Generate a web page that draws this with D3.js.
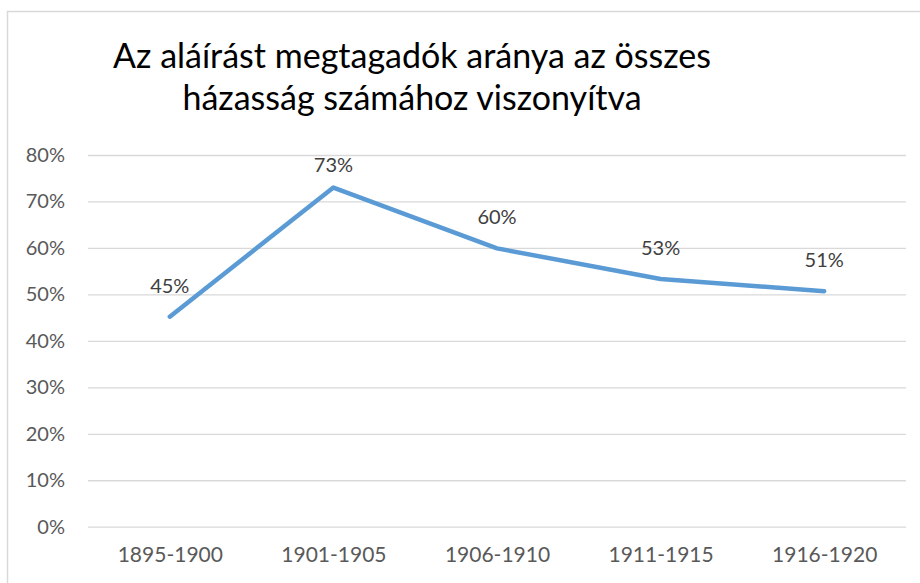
<!DOCTYPE html>
<html>
<head>
<meta charset="utf-8">
<script src="https://cdn.jsdelivr.net/npm/d3@7"></script>
<style>
  html, body { margin: 0; padding: 0; background: #fff; }
  svg { display: block; font-family: Lato, "Open Sans", sans-serif; }
</style>
</head>
<body>
<div id="chart"></div>
<script>
// chart data
const titleLines = ["Az aláírást megtagadók aránya az összes", "házasság számához viszonyítva"];
const categories = ["1895-1900", "1901-1905", "1906-1910", "1911-1915", "1916-1920"];
const values = [0.452, 0.730, 0.599, 0.533, 0.507];
const yTicks = [0, 0.1, 0.2, 0.3, 0.4, 0.5, 0.6, 0.7, 0.8];

const width = 920, height = 583;
const margin = { top: 155, right: 14, bottom: 56.3, left: 88 };

const svg = d3.select("#chart").append("svg")
  .attr("width", width)
  .attr("height", height);

// chart frame (runs off the right/bottom edge like the screenshot)
svg.append("rect")
  .attr("x", 7.5).attr("y", 11.5)
  .attr("width", width + 20).attr("height", height + 20)
  .attr("fill", "#fff")
  .attr("stroke", "#d9d9d9")
  .attr("stroke-width", 1.5);

const x = d3.scalePoint()
  .domain(categories)
  .range([margin.left, width - margin.right])
  .padding(0.5);

const y = d3.scaleLinear()
  .domain([0, 0.8])
  .range([height - margin.bottom, margin.top]);

// title
svg.append("text")
  .attr("x", 412)
  .attr("y", 68)
  .attr("text-anchor", "middle")
  .attr("font-size", 34)
  .attr("fill", "#000")
  .selectAll("tspan")
  .data(titleLines)
  .join("tspan")
  .attr("x", 412)
  .attr("dy", (d, i) => i === 0 ? 0 : 42)
  .text(d => d);

// gridlines + y labels
const yAxis = svg.append("g")
  .attr("transform", "translate(" + margin.left + ",0)")
  .call(d3.axisLeft(y)
    .tickValues(yTicks)
    .tickFormat(d3.format(".0%"))
    .tickSize(-(width - margin.left - margin.right))
    .tickPadding(23));
yAxis.select(".domain").remove();
yAxis.selectAll(".tick line").attr("stroke", "#d9d9d9").attr("stroke-width", 1.3);
yAxis.selectAll(".tick text")
  .attr("font-family", "Lato, 'Open Sans', sans-serif")
  .attr("font-size", 20)
  .attr("fill", "#595959");

// x labels
const xAxis = svg.append("g")
  .attr("transform", "translate(0," + (height - margin.bottom) + ")")
  .call(d3.axisBottom(x).tickSize(0).tickPadding(20));
xAxis.select(".domain").remove();
xAxis.selectAll(".tick text")
  .attr("font-family", "Lato, 'Open Sans', sans-serif")
  .attr("font-size", 21)
  .attr("fill", "#595959");

// line
const line = d3.line()
  .x((d, i) => x(categories[i]))
  .y(d => y(d));

svg.append("path")
  .datum(values)
  .attr("d", line)
  .attr("fill", "none")
  .attr("stroke", "#5b9bd5")
  .attr("stroke-width", 4.5)
  .attr("stroke-linejoin", "round")
  .attr("stroke-linecap", "round");

// data labels, kept inside the plot area
svg.append("g")
  .selectAll("text")
  .data(values)
  .join("text")
  .attr("x", (d, i) => x(categories[i]))
  .attr("y", d => Math.max(y(d) - 24, margin.top + 17))
  .attr("text-anchor", "middle")
  .attr("font-size", 20)
  .attr("fill", "#404040")
  .text(d => d3.format(".0%")(d));
</script>
</body>
</html>
